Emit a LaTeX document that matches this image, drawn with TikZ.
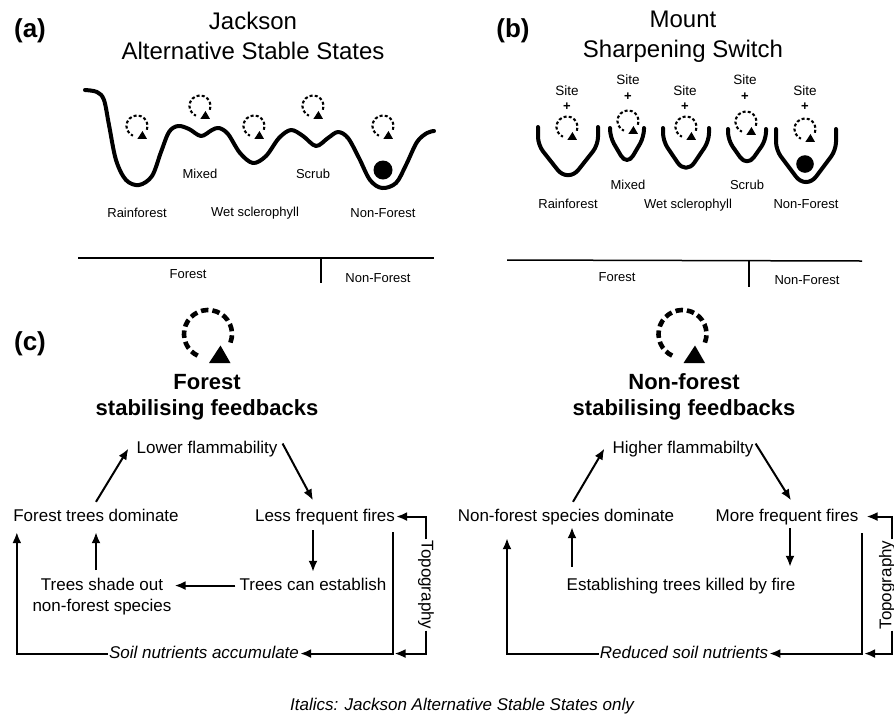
\documentclass[tikz,border=0pt]{standalone}
\usepackage{fontspec}
\setmainfont{Liberation Sans}
\usetikzlibrary{arrows.meta,calc}
\newcommand\fbloop[4]{%
  \begin{scope}[shift={(#1,#2)}]
    \draw[#4] (21:{24*#3}) arc[start angle=21, end angle=-247, radius={24*#3}];
    \fill ({12.5*#3},{11.5*#3}) -- ({1*#3},{29*#3}) -- ({22.5*#3},{29*#3}) -- cycle;
  \end{scope}}
% bucket: xl, xr, top, side bottom, corner y, bottom rounding
\newcommand\fbbucket[6]{%
  \draw[surface] (#1,#3) [rounded corners=8pt] -- (#1,#4) [rounded corners=#6] -- ({(#1+#2)/2},#5) [rounded corners=8pt] -- (#2,#4) [sharp corners] -- (#2,#3);}
\begin{document}
\begin{tikzpicture}[x=1pt,y=-1pt,
  lab/.style={inner sep=1pt, font=\fontsize{13}{15}\selectfont, anchor=base},
  sitelab/.style={inner sep=0pt, font=\fontsize{13.5}{15}\selectfont, anchor=base},
  plus/.style={inner sep=0pt, font=\bfseries\fontsize{13}{15}\selectfont},
  title/.style={inner sep=1pt, font=\fontsize{24}{28}\selectfont, anchor=base},
  panel/.style={inner sep=1pt, font=\bfseries\fontsize{26}{30}\selectfont, anchor=base},
  head/.style={inner sep=1pt, font=\bfseries\fontsize{22}{26}\selectfont, anchor=base},
  txt/.style={inner sep=1pt, font=\fontsize{17}{20}\selectfont, text height=12.5pt, text depth=3.6pt, anchor=base},
  itxt/.style={txt, font=\itshape\fontsize{17}{20}\selectfont},
  twoline/.style={inner sep=1pt, font=\fontsize{17}{20.5}\selectfont, align=center, anchor=north},
  arr/.style={line width=2pt, -{Latex[length=11pt,width=9pt]}},
  divline/.style={line width=1.5pt},
  surface/.style={line width=4pt, line cap=round, line join=round},
  smallloop/.style={line width=2.1pt, dash pattern=on 3pt off 2.2pt},
  bigloop/.style={line width=4.6pt, dash pattern=on 7.5pt off 4pt},
  ball/.style={fill=black}]
\useasboundingbox (0,0) rectangle (894,713);
\fill[white] (0,0) rectangle (894,713);

% ---------- panel (a)
\node[panel] (pa) at (30,37) {(a)};
\node[title] (ta1) at (253,29) {Jackson};
\node[title] (ta2) at (253,59) {Alternative Stable States};
\draw[surface] plot[smooth, tension=0.55] coordinates {
 (85,90) (97,92) (104,100) (109,125) (116,160) (126,180) (139,185) (152,176)
 (161,152) (169,132) (178,126) (189,129) (201,136) (212,130) (219,128) (228,134)
 (240,153) (253,163) (266,156) (279,138) (291,130) (303,136) (316,146) (328,138)
 (338,132) (348,138) (359,158) (370,180) (382,188) (396,183) (406,165) (417,142)
 (427,133) (434,131)};
\fbloop{137}{126}{0.44}{smallloop}
\fbloop{200}{106}{0.44}{smallloop}
\fbloop{254}{126}{0.44}{smallloop}
\fbloop{313}{106}{0.44}{smallloop}
\fbloop{383}{126}{0.44}{smallloop}
\fill[ball] (383,170) circle[radius=9.5];
\node[lab] (am) at (200,178) {Mixed};
\node[lab] (as) at (313,178) {Scrub};
\node[lab] (ar) at (137,217) {Rainforest};
\node[lab] (aw) at (255,216) {Wet sclerophyll};
\node[lab] (an) at (383,217) {Non-Forest};
\draw[divline] (78,258) -- (434,258);
\draw[divline] (321,258) -- (321,283);
\node[lab] (af) at (188,278) {Forest};
\node[lab] (anf) at (378,282) {Non-Forest};

% ---------- panel (b)
\node[panel] (pb) at (513,37) {(b)};
\node[title] (tb1) at (683,27.5) {Mount};
\node[title] (tb2) at (683,57) {Sharpening Switch};
\fbbucket{538}{598}{127}{145}{183}{17pt}
\fbbucket{610}{644}{128}{137}{166}{12pt}
\fbbucket{663}{709}{128}{141}{175}{15pt}
\fbbucket{728}{766}{129}{140}{167}{12pt}
\fbbucket{776}{836}{129}{150}{190}{17pt}
\fbloop{567}{127}{0.44}{smallloop}
\fbloop{628}{121}{0.44}{smallloop}
\fbloop{686}{127}{0.44}{smallloop}
\fbloop{746}{122}{0.44}{smallloop}
\fbloop{805}{129}{0.44}{smallloop}
\fill[ball] (805,164) circle[radius=8.8];
\node[sitelab] (s1) at (567,95) {Site};
\node[sitelab] (s2) at (628,84) {Site};
\node[sitelab] (s3) at (685,95) {Site};
\node[sitelab] (s4) at (745,84) {Site};
\node[sitelab] (s5) at (805,95) {Site};
\node[plus] (p1) at (567,107) {+};
\node[plus] (p2) at (628,97) {+};
\node[plus] (p3) at (685,107) {+};
\node[plus] (p4) at (745,97) {+};
\node[plus] (p5) at (805,107) {+};
\node[lab] (bm) at (628,189) {Mixed};
\node[lab] (bs) at (747,189) {Scrub};
\node[lab] (br) at (568,208) {Rainforest};
\node[lab] (bw) at (688,208) {Wet sclerophyll};
\node[lab] (bn) at (806,208) {Non-Forest};
\draw[divline] (507,260) -- (862,261);
\draw[divline] (749,260) -- (749,287);
\node[lab] (bf) at (617,281) {Forest};
\node[lab] (bnf) at (807,284) {Non-Forest};

% ---------- panel (c)
\node[panel] (pc) at (30,350) {(c)};
\fbloop{208}{334}{1}{bigloop}
\fbloop{682.5}{334}{1}{bigloop}
\node[head] (fh1) at (207,389) {Forest};
\node[head] (fh2) at (207,415) {stabilising feedbacks};
\node[head] (nh1) at (684,389) {Non-forest};
\node[head] (nh2) at (684,415) {stabilising feedbacks};

% left loop
\node[txt] (lfl) at (207,453) {Lower flammability};
\node[txt] (ftd) at (96,521) {Forest trees dominate};
\node[txt] (lff) at (325,521) {Less frequent fires};
\node[txt] (tce) at (313,590) {Trees can establish};
\node[twoline] (tso) at (102,577) {Trees shade out\\non-forest species};
\node[itxt] (sna) at (204,658) {Soil nutrients accumulate};
\node[txt, anchor=center, rotate=-90] (topo1) at (426,585) {Topography};

\draw[arr] ([yshift=5.5pt]ftd.north) -- ([xshift=-7pt]lfl.west);
\draw[arr] ([xshift=4pt,yshift=5pt]lfl.east) -- ([xshift=-12pt,yshift=7pt]lff.north);
\coordinate (a3) at (lff.south -| tce.north);
\draw[arr, shorten <=4.5pt, shorten >=4.5pt] (a3) -- (tce.north);
\draw[arr, shorten <=3pt, shorten >=2pt] (tce.west) -- (tce.west -| tso.east);
\coordinate (a5) at (tso.north -| ftd.south);
\draw[arr, shorten <=7pt, shorten >=6.4pt] (a5) -- (ftd.south);
\draw[arr] (sna.west) -| ([xshift=4.7pt,yshift=-6.4pt]ftd.south west);
\coordinate (lffr) at ([xshift=-3.6pt,yshift=-6.4pt]lff.south east);
\coordinate (c1) at (lffr |- sna.east);
\draw[arr] (lffr) -- (c1) -- (sna.east);
\draw[arr] (topo1.west) |- (lff.east);
\draw[arr] (topo1.east) |- ([xshift=2pt]c1);

% right loop
\node[txt] (hfl) at (683,453) {Higher flammabilty};
\node[txt] (nfd) at (566,521) {Non-forest species dominate};
\node[txt] (mff) at (787,521) {More frequent fires};
\node[txt] (etk) at (681,590) {Establishing trees killed by fire};
\node[itxt] (rsn) at (684,658) {Reduced soil nutrients};
\node[txt, anchor=center, rotate=90] (topo2) at (887,585) {Topography};

\draw[arr] ([xshift=7pt,yshift=5.5pt]nfd.north) -- ([xshift=-7pt]hfl.west);
\draw[arr] ([xshift=1pt,yshift=5pt]hfl.east) -- ([xshift=4pt,yshift=7pt]mff.north);
\coordinate (b3) at (etk.north -| mff.south);
\draw[arr] ([xshift=3pt,yshift=-2.5pt]mff.south) -- ([xshift=3pt,yshift=9.5pt]b3);
\coordinate (b4) at (etk.north -| nfd.south);
\draw[arr] ([xshift=6pt,yshift=9.5pt]b4) -- ([xshift=6pt,yshift=-1.4pt]nfd.south);
\draw[arr] (rsn.west) -| ([xshift=-59pt,yshift=-12.4pt]nfd.south);
\coordinate (mffr) at ([xshift=2.6pt,yshift=-7.4pt]mff.south east);
\coordinate (c2) at (mffr |- rsn.east);
\draw[arr] (mffr) -- (c2) -- (rsn.east);
\draw[arr] ([xshift=5pt]topo2.east) |- ([xshift=7pt]mff.east);
\draw[arr] ([xshift=5pt]topo2.west) |- ([xshift=2pt]c2);

\node[itxt, text height=, text depth=] (note) at (462,710.5) {Italics: Jackson Alternative Stable States only};
\end{tikzpicture}
\end{document}
